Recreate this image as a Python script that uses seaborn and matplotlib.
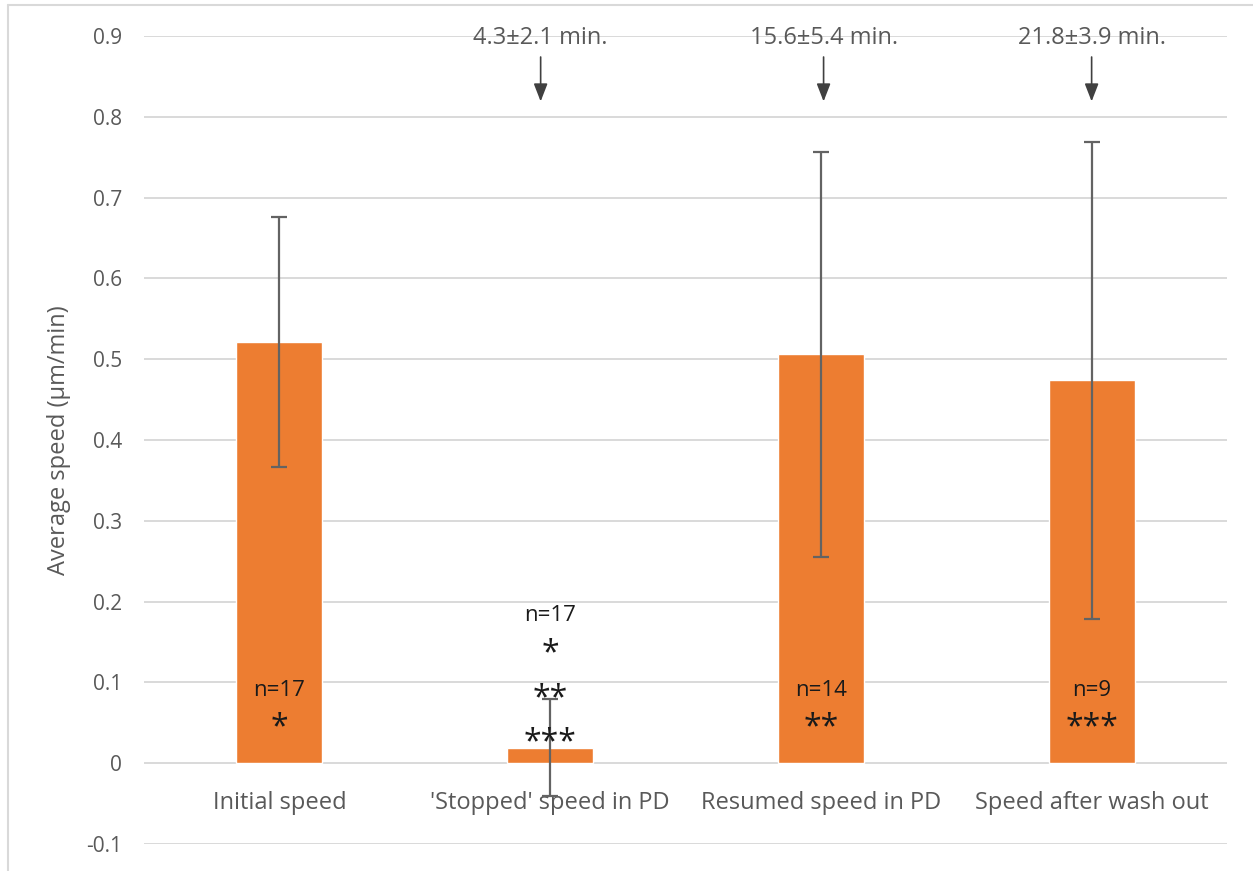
import matplotlib
matplotlib.use("Agg")
import matplotlib.pyplot as plt
from matplotlib.lines import Line2D
import seaborn as sns
import pandas as pd

# ---- data ----
categories = ["Initial speed", "'Stopped' speed in PD", "Resumed speed in PD", "Speed after wash out"]
mean_speed = [0.521, 0.019, 0.506, 0.474]
sd_speed = [0.155, 0.060, 0.251, 0.295]
n_labels = ["n=17", "n=17", "n=14", "n=9"]
sig_labels = ["*", "**", "***"]
time_labels = ["4.3\u00b12.1 min.", "15.6\u00b15.4 min.", "21.8\u00b13.9 min."]
time_positions = [0.965, 2.01, 3.0]
y_ticks = [-0.1, 0.0, 0.1, 0.2, 0.3, 0.4, 0.5, 0.6, 0.7, 0.8, 0.9]

sns.set_theme(style="white")
plt.rcParams["font.family"] = ["Open Sans", "DejaVu Sans"]

ORANGE = "#ED7D31"
GRID = "#D9D9D9"
TXT = "#595959"
ERR = "#636363"
FS = 17
TICK_FS = 15
N_FS = 16

fig = plt.figure(figsize=(12.53, 8.71), dpi=100)
ax = fig.add_axes([144 / 1253, 1 - 844 / 871, 1083 / 1253, 808 / 871])

df = pd.DataFrame({"category": categories, "speed": mean_speed})
sns.barplot(data=df, x="category", y="speed", color=ORANGE, saturation=1,
            width=0.317, errorbar=None, ax=ax, zorder=2)

ax.errorbar(range(len(categories)), mean_speed, yerr=sd_speed, fmt="none",
            ecolor=ERR, elinewidth=1.6, capsize=5.5, capthick=1.6, zorder=3)

ax.set_xlim(-0.5, 3.5)
ax.set_ylim(-0.1, 0.9)
ax.set_yticks(y_ticks)
ax.set_yticklabels(["-0.1", "0", "0.1", "0.2", "0.3", "0.4", "0.5", "0.6", "0.7", "0.8", "0.9"])
ax.yaxis.grid(True, color=GRID, linewidth=1.4, zorder=0)
ax.set_axisbelow(True)
for s in ax.spines.values():
    s.set_visible(False)
ax.tick_params(axis="y", length=0, pad=16, labelsize=TICK_FS, labelcolor=TXT)
ax.tick_params(axis="x", length=0, pad=-38, labelsize=FS, labelcolor=TXT)
ax.set_xlabel("")
ax.set_ylabel("Average speed (\u00b5m/min)", fontsize=FS, color=TXT)
ax.yaxis.label.set_verticalalignment("center")
ax.yaxis.set_label_coords(-0.0785, 0.5)

STAR_FS = 23
STAR_DY = -0.007

# bars 0, 2, 3: labels inside bars
for i, sig in zip([0, 2, 3], sig_labels):
    ax.text(i, 0.0903, n_labels[i], ha="center", va="center", fontsize=N_FS, color="#1a1a1a", zorder=4)
    ax.text(i, 0.0507 + STAR_DY, sig, ha="center", va="center", fontsize=STAR_FS, color="#1a1a1a", zorder=4)
# stopped bar: labels stacked above
ax.text(1, 0.183, n_labels[1], ha="center", va="center", fontsize=N_FS, color="#1a1a1a", zorder=4)
for yy, sig in zip([0.142, 0.0866, 0.032], sig_labels):
    ax.text(1, yy + STAR_DY, sig, ha="center", va="center", fontsize=STAR_FS, color="#1a1a1a", zorder=4)

# time annotations with arrows
for xp, lab in zip(time_positions, time_labels):
    ax.text(xp, 0.897, lab, ha="center", va="center", fontsize=FS, color=TXT, zorder=4)
    ax.annotate("", xy=(xp, 0.819), xytext=(xp, 0.874),
                arrowprops=dict(arrowstyle="-|>,head_length=0.9,head_width=0.35",
                                color="#404040", lw=1.2, shrinkA=0, shrinkB=0), zorder=4)

# outer frame (left and top edges visible)
fig.add_artist(Line2D([7.5 / 1253, 7.5 / 1253], [0, 1 - 5 / 871], color=GRID, lw=1.5))
fig.add_artist(Line2D([7.5 / 1253, 1], [1 - 5 / 871, 1 - 5 / 871], color=GRID, lw=1.5))

fig.savefig("out.png", dpi=100)
